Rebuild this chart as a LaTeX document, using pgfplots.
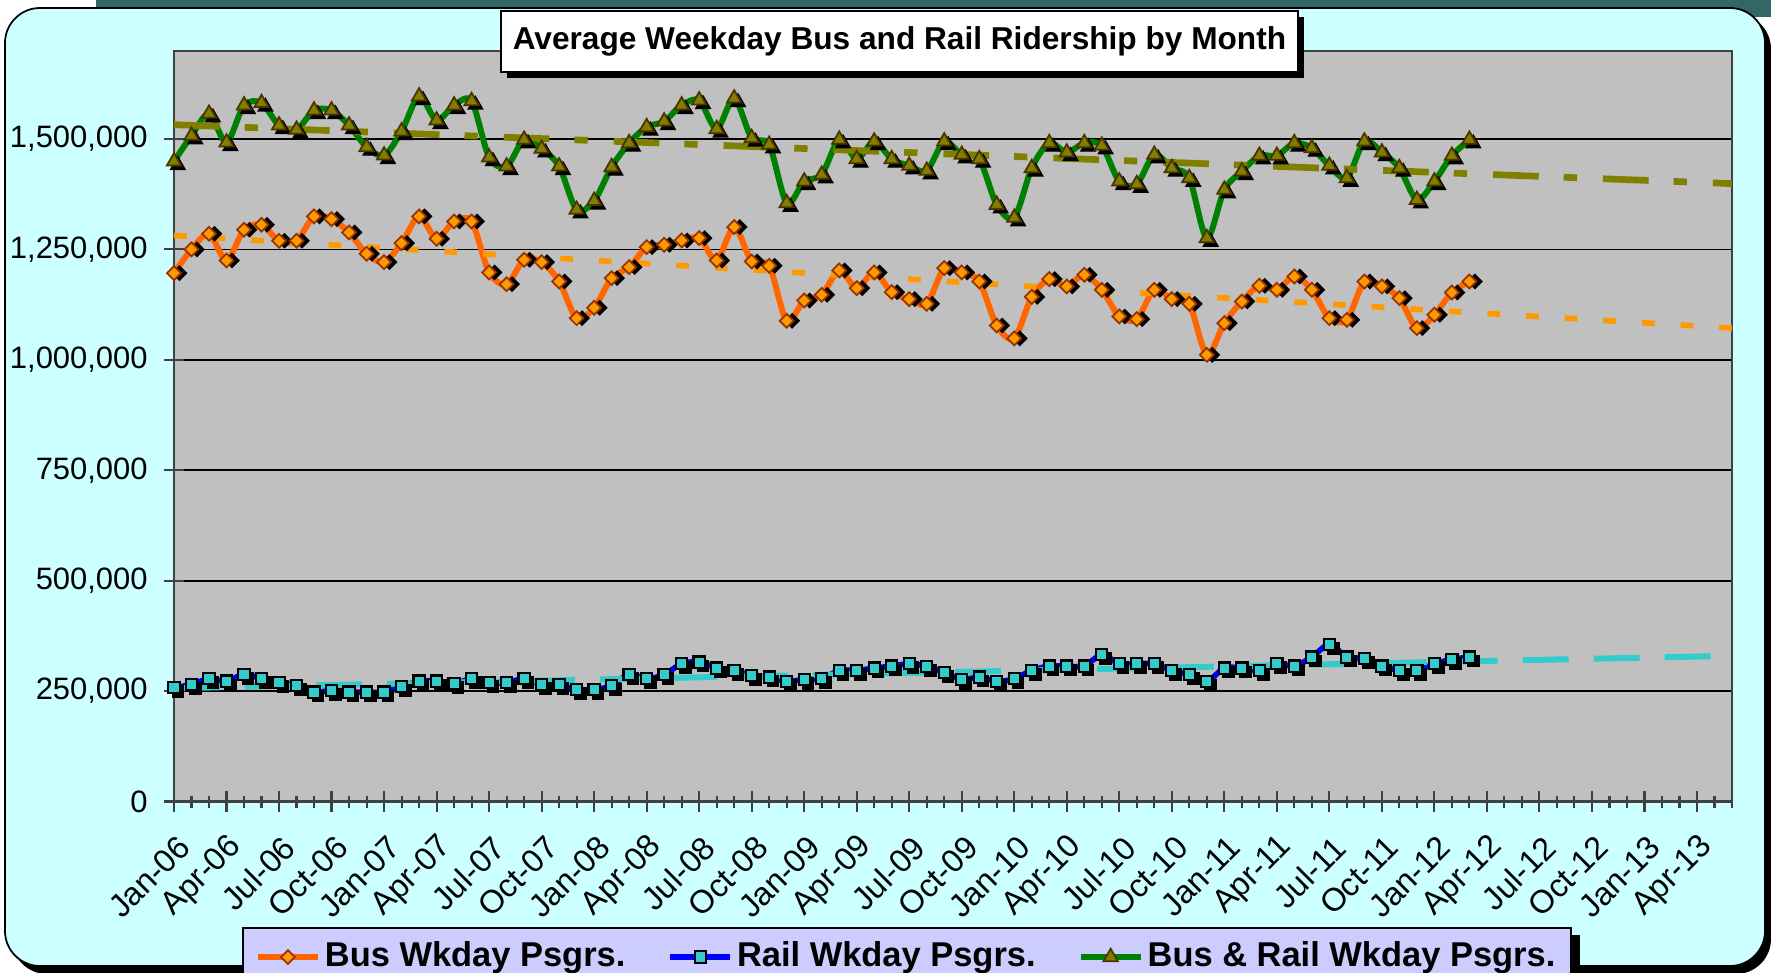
\documentclass[border=0pt]{standalone}
\usepackage{fontspec}
\setmainfont{Liberation Sans}
\usepackage{pgfplots}
\usepackage{pgfplotstable}
\pgfplotsset{compat=1.18}
\usetikzlibrary{shadows}
\pgfdeclarelayer{bg}
\pgfsetlayers{bg,main}

\definecolor{bgcyan}{HTML}{CCFFFF}
\definecolor{plotgray}{HTML}{C0C0C0}
\definecolor{frameteal}{HTML}{336666}
\definecolor{busline}{HTML}{FF6600}
\definecolor{busfill}{HTML}{FF9900}
\definecolor{busedge}{HTML}{993300}
\definecolor{railline}{HTML}{0000FF}
\definecolor{railfill}{HTML}{33CCCC}
\definecolor{totline}{HTML}{008000}
\definecolor{totfill}{HTML}{808000}
\definecolor{totedge}{HTML}{4D3300}
\definecolor{legfill}{HTML}{CCCCFF}

% month index (0 = Jan-06), bus, rail, bus+rail weekday passengers
\pgfplotstableread{
m bus rail total
0 1196400 257500 1449400
1 1250000 265100 1507500
2 1285500 277900 1557400
3 1225000 272600 1492400
4 1294600 287700 1576300
5 1305900 277900 1581600
6 1269600 268900 1531000
7 1269600 262800 1521100
8 1324800 247700 1565000
9 1318700 251500 1565000
10 1288500 247700 1531000
11 1240200 247700 1481900
12 1221300 247700 1463000
13 1264300 260600 1517400
14 1324800 272600 1596700
15 1274200 272600 1542300
16 1313400 266600 1576300
17 1313400 277900 1586100
18 1197900 268900 1458500
19 1171400 268900 1438100
20 1226600 277900 1498500
21 1221300 264300 1478100
22 1177500 264300 1438100
23 1094400 253000 1339900
24 1118000 253000 1360000
25 1185000 262800 1436600
26 1209900 287700 1490900
27 1255300 277900 1527200
28 1260600 287300 1540000
29 1270400 311900 1576300
30 1275700 315700 1587600
31 1225100 302100 1522700
32 1300600 296800 1592100
33 1222800 285500 1502300
34 1213000 281700 1487200
35 1088400 271900 1355000
36 1134400 276400 1404100
37 1147300 277900 1419200
38 1202400 296800 1498500
39 1162400 296800 1454700
40 1197900 302100 1494700
41 1153300 306600 1454700
42 1137500 311900 1439600
43 1126900 305900 1428200
44 1207600 291500 1494700
45 1197900 276400 1464500
46 1177500 281700 1454700
47 1077800 271900 1351200
48 1048700 277900 1321800
49 1142700 296800 1434300
50 1182800 306600 1490900
51 1166200 306600 1469800
52 1192600 306600 1490900
53 1158600 332300 1484900
54 1098200 311900 1404100
55 1092200 311900 1398000
56 1158600 311900 1464500
57 1137500 296800 1434300
58 1126900 287000 1411600
59 1011300 271900 1275700
60 1083100 302100 1385200
61 1132200 302100 1426700
62 1167700 296800 1462200
63 1158600 311900 1462200
64 1188800 306600 1490900
65 1158600 327000 1479600
66 1094400 355700 1439600
67 1090600 327000 1411600
68 1177500 323200 1494700
69 1166200 306600 1469800
70 1139800 296800 1434300
71 1071800 296800 1362500
72 1102000 311900 1404100
73 1152600 321700 1462200
74 1177500 327000 1498500
}\ridership

% linear trend lines, end points
\pgfplotstableread{
m bus rail total
0 1281600 256400 1532500
89 1072000 329800 1399000
}\trends

\begin{document}
\begin{tikzpicture}
\clip (0,0) rectangle (17.71cm,9.72cm);
% frame
\begin{pgfonlayer}{bg}
\fill[frameteal] (0.96cm,9.55cm) rectangle (17.71cm,9.72cm);
\fill[black, rounded corners=0.35cm] (0.12cm,-0.02cm) rectangle (17.71cm,9.58cm);
\filldraw[fill=bgcyan, draw=black, line width=0.5pt, rounded corners=0.35cm] (0.05cm,0.06cm) rectangle (17.65cm,9.64cm);
\end{pgfonlayer}

\begin{axis}[
  at={(1.74cm,1.705cm)}, anchor=south west,
  scale only axis, width=15.58cm, height=7.508cm,
  xmin=0, xmax=89, ymin=0, ymax=1700000,
  axis background/.style={fill=plotgray},
  axis line style={draw=black!75, line width=0.6pt},
  ytick={0,250000,...,1500000},
  scaled y ticks=false,
  ymajorgrids,
  major grid style={black, line width=0.5pt},
  xtick={0,3,...,87},
  xticklabels={Jan-06,Apr-06,Jul-06,Oct-06,Jan-07,Apr-07,Jul-07,Oct-07,Jan-08,Apr-08,Jul-08,Oct-08,Jan-09,Apr-09,Jul-09,Oct-09,Jan-10,Apr-10,Jul-10,Oct-10,Jan-11,Apr-11,Jul-11,Oct-11,Jan-12,Apr-12,Jul-12,Oct-12,Jan-13,Apr-13},
  minor xtick={0,1,...,89},
  tick align=center,
  major tick length=0.2cm, minor tick length=0.12cm,
  tick style={black!75, line width=0.6pt},
  xtick pos=bottom, ytick pos=left,
  /pgf/number format/assume math mode=true,
  /pgf/number format/fixed,
  /pgf/number format/1000 sep={,},
  yticklabel style={font=\fontsize{8.8}{10}\selectfont, xshift=-0.04cm},
  xticklabel style={rotate=45, anchor=east, font=\fontsize{9.2}{10.5}\selectfont, yshift=-0.29cm, xshift=-0.02cm},
  legend columns=3,
  legend style={name=leg, at={(0.0437,-0.1672)}, anchor=north west,
    fill=legfill, draw=black, line width=0.5pt,
    inner xsep=0.12cm, inner ysep=0.02cm,
    nodes={inner xsep=0.04cm, inner ysep=0.12cm},
    font=\bfseries\fontsize{9.8}{11}\selectfont,
    /tikz/every even column/.append style={column sep=0.38cm}},
  legend image code/.code={\draw[mark repeat=2, mark phase=2, #1] plot coordinates {(0cm,0cm) (0.3cm,0cm) (0.6cm,0cm)};},
]
% bus
\addplot[forget plot, only marks, black, mark=square*, mark size=1.4pt,
  mark options={rotate=45, xshift=1.1pt, yshift=-1.1pt}] table[x=m, y=bus] {\ridership};
\addplot[busline, line width=1.7pt, smooth, mark=square*, mark size=1.4pt,
  mark options={rotate=45, fill=busfill, draw=busedge, line width=0.5pt}] table[x=m, y=bus] {\ridership};
\addlegendentry{Bus Wkday Psgrs.}
% rail
\addplot[forget plot, only marks, black, mark=square*, mark size=1.6pt,
  mark options={xshift=1.1pt, yshift=-1.1pt}] table[x=m, y=rail] {\ridership};
\addplot[railline, line width=1.6pt, smooth, mark=square*, mark size=1.6pt,
  mark options={fill=railfill, draw=black, line width=0.6pt}] table[x=m, y=rail] {\ridership};
\addlegendentry{Rail Wkday Psgrs.}
% bus + rail
\addplot[forget plot, only marks, black, mark=triangle*, mark size=2.35pt,
  mark options={xshift=1.1pt, yshift=-1.1pt}] table[x=m, y=total] {\ridership};
\addplot[totline, line width=1.7pt, smooth, mark=triangle*, mark size=2.35pt,
  mark options={fill=totfill, draw=totedge, line width=0.5pt}] table[x=m, y=total] {\ridership};
\addlegendentry{Bus \& Rail Wkday Psgrs.}
% trend lines
\addplot[forget plot, busfill, line width=1.6pt, dash pattern=on 0.127cm off 0.26cm] table[x=m, y=bus] {\trends};
\addplot[forget plot, railfill, line width=1.7pt, dash pattern=on 0.46cm off 0.25cm] table[x=m, y=rail] {\trends};
\addplot[forget plot, totfill, line width=1.9pt, dash pattern=on 0.457cm off 0.25cm on 0.133cm off 0.26cm] table[x=m, y=total] {\trends};
\end{axis}

% legend shadow
\begin{pgfonlayer}{bg}
\fill[black] ([xshift=0.08cm,yshift=-0.08cm]leg.south west) rectangle ([xshift=0.08cm,yshift=-0.08cm]leg.north east);
\end{pgfonlayer}

\node[draw=black, fill=white, line width=0.6pt, minimum width=7.93cm, minimum height=0.61cm,
  drop shadow={shadow xshift=0.06cm, shadow yshift=-0.06cm, fill=black, opacity=1},
  font=\bfseries\fontsize{9}{10.5}\selectfont] at (8.995cm,9.305cm)
  {Average Weekday Bus and Rail Ridership by Month};
\end{tikzpicture}
\end{document}
